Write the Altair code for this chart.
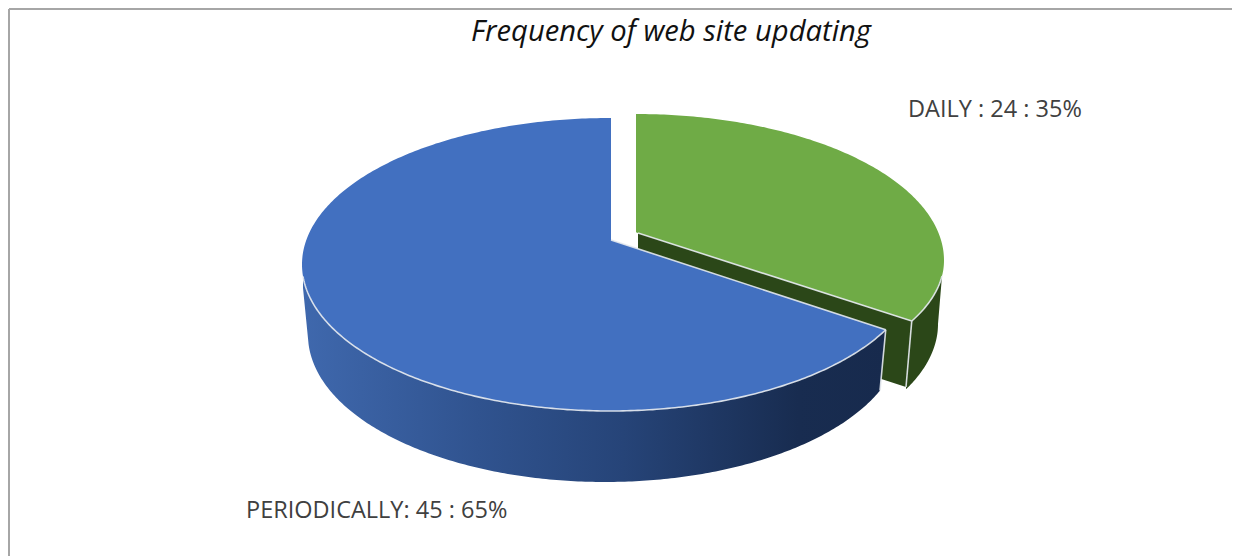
import numpy as np
import pandas as pd
import altair as alt

TITLE = "Frequency of web site updating"
CATEGORIES = ["DAILY", "PERIODICALLY"]
VALUES = [24, 45]
PERCENTS = [35, 65]
SEPARATORS = [" : ", ": "]
FILL_TOPS = ["#6fab46", "#4270c0"]
DARK_GREEN = "#2b4718"
EDGE = "#e4e9ee"
BORDER = "#a6a6a6"
WALL_STOPS = [(0, "#3f68ad"), (0.3, "#30538f"), (0.55, "#264478"), (0.85, "#182c50"), (1, "#172a4d")]

W, H = 1224, 548
OFF = 8
# layout of the projected pie (page pixels)
BLUE = dict(cx=610.0, cy=264.5, rx=308.0, ry=146.5, ax=611.0, ay=240.0)
GREEN = dict(cx=636.0, cy=260.5, rx=308.0, ry=146.5, ry2=136.0, ax=638.0, ay=233.0)
BLUE_LOW = dict(cx=605.0, cy=335.0, rx=297.0, ry=147.0)
GREEN_LOW = dict(cx=630.0, cy=324.0, rx=308.0, ry=147.0)
WARP = np.radians(9.3)

frac = VALUES[0] / sum(VALUES)
t = 2 * np.pi * frac
t_end = t + WARP * np.sin(2 * t)


def pt(e, tt):
    return e["cx"] + e["rx"] * np.sin(tt), e["cy"] - e.get("ry2", e["ry"]) * np.cos(tt)


def top(e, x):
    return e["cy"] - e["ry"] * np.sqrt(np.clip(1 - ((x - e["cx"]) / e["rx"]) ** 2, 0, 1))


def bot(e, x):
    return e["cy"] + e.get("ry2", e["ry"]) * np.sqrt(np.clip(1 - ((x - e["cx"]) / e["rx"]) ** 2, 0, 1))


def sweep(x0, x1, e, n=260):
    u = np.linspace(0, np.pi, n)
    xs = e["cx"] - e["rx"] * np.cos(u)
    xs = xs[(xs > x0) & (xs < x1)]
    return np.concatenate([[x0], xs, [x1]])


def frame(x, y, y2):
    return pd.DataFrame({"px": x, "upper": y, "lower": y2})


bex, bey = pt(BLUE, t_end)
gex, gey = pt(GREEN, t_end)


def lerp(x, x0, y0, x1, y1):
    return y0 + (np.asarray(x) - x0) * (y1 - y0) / (x1 - x0)


# blue top
xs = sweep(BLUE["cx"] - BLUE["rx"], bex, BLUE)
left = xs[xs < BLUE["ax"]]
left = np.append(left, BLUE["ax"])
right = xs[xs > BLUE["ax"]]
right = np.insert(right, 0, BLUE["ax"] + 0.01)
bx = np.concatenate([left, right])
bu = np.concatenate([top(BLUE, left), lerp(right, BLUE["ax"], BLUE["ay"], bex, bey)])
blue_top = frame(bx, bu, bot(BLUE, bx))

# blue wall
wall_left_x, wall_left_y = 303.0, 288.0
lx0 = BLUE_LOW["cx"] - BLUE_LOW["rx"]
wx_end = 880.0
wx = sweep(lx0 + 0.5, wx_end, BLUE_LOW)
wx = np.concatenate([[wall_left_x], wx, [bex]])
wl = bot(BLUE_LOW, wx)
wl[0] = wall_left_y
wl[-1] = bey
wu = bot(BLUE, wx)
wu[-1] = bey
blue_wall = frame(wx, wu, wl)

# green top
xs = sweep(GREEN["cx"], GREEN["cx"] + GREEN["rx"], GREEN)
gl = np.where(xs <= gex, lerp(xs, GREEN["ax"], GREEN["ay"], gex, gey), bot(GREEN, xs))
gl = np.maximum(gl, top(GREEN, xs))
green_top = frame(xs, top(GREEN, xs), gl)

# green inner cut face
seam_x, seam_y = 906.0, 387.0
fx = np.array([GREEN["ax"], seam_x, gex])
fu = lerp(fx, GREEN["ax"], GREEN["ay"], gex, gey)
fl = np.array([300.0, seam_y, gey])
green_face = frame(fx, fu, fl)

# green rim
rx_end = 942.0
rxs = sweep(seam_x, rx_end, GREEN_LOW)
ru = np.where(rxs <= gex, lerp(rxs, seam_x, seam_y, gex, gey), bot(GREEN, rxs))
rl = bot(GREEN_LOW, rxs)
rl[-1] = bot(GREEN, np.array([rx_end]))[0]
green_rim = frame(rxs, ru, rl)


def poly(name, xs, ys):
    return pd.DataFrame({"x": xs, "y": ys, "k": name, "i": np.arange(len(xs))})


arc_x = sweep(wall_left_x, bex, BLUE)
edges = pd.concat([
    poly("blue rim", arc_x, bot(BLUE, arc_x)),
    poly("blue cut", [BLUE["ax"], bex], [BLUE["ay"], bey]),
    poly("blue wall", [bex, wx_end], [bey, bot(BLUE_LOW, np.array([wx_end]))[0]]),
    poly("green cut", [GREEN["ax"], gex], [GREEN["ay"], gey]),
    poly("seam", [gex, seam_x], [gey, seam_y]),
    poly("green rim", sweep(gex, rx_end, GREEN), bot(GREEN, sweep(gex, rx_end, GREEN))),
], ignore_index=True)

X = alt.Scale(domain=[OFF, OFF + W], range=[0, W], nice=False, zero=False)
Y = alt.Scale(domain=[OFF, OFF + H], range=[0, H], nice=False, zero=False)
ex = alt.X("x:Q", scale=X, axis=None)
ey = alt.Y("y:Q", scale=Y, axis=None)


def area(df, fill):
    return alt.Chart(df).mark_area(fill=fill).encode(
        x=alt.X("px:Q", scale=X, axis=None),
        y=alt.Y("upper:Q", scale=Y, axis=None, stack=None),
        y2=alt.Y2("lower:Q"),
    )


wall_fill = alt.Gradient(gradient="linear", x1=0, x2=1, y1=0, y2=0,
                         stops=[alt.GradientStop(offset=o, color=c) for o, c in WALL_STOPS])

lines = alt.Chart(edges).mark_line(stroke=EDGE, strokeWidth=1.6, opacity=0.9).encode(
    x=ex, y=ey, detail="k:N", order=alt.Order("i:Q"))

labels = pd.DataFrame({
    "x": [908, 246],
    "y": [110, 511],
    "t": [f"{c}{s}{v} : {p}%" for c, s, v, p in zip(CATEGORIES, SEPARATORS, VALUES, PERCENTS)],
})
text = alt.Chart(labels).mark_text(font="Open Sans", fontSize=23.5, color="#404040", align="left",
                                   baseline="middle").encode(x=ex, y=ey, text="t:N")
title_df = pd.DataFrame({"x": [471], "y": [32], "t": [TITLE]})
title = alt.Chart(title_df).mark_text(font="Open Sans", fontSize=29.2, fontStyle="italic", color="#111111",
                                      align="left", baseline="middle").encode(x=ex, y=ey, text="t:N")

frame_df = pd.DataFrame({"a": [OFF + 1], "b": [OFF + W], "c": [OFF + H]})
border_top = alt.Chart(frame_df).mark_rule(stroke=BORDER, strokeWidth=2).encode(
    x=alt.X("a:Q", scale=X, axis=None), x2="b:Q", y=alt.Y("a:Q", scale=Y, axis=None))
border_left = alt.Chart(frame_df).mark_rule(stroke=BORDER, strokeWidth=2).encode(
    x=alt.X("a:Q", scale=X, axis=None), y=alt.Y("a:Q", scale=Y, axis=None), y2="c:Q")

chart = alt.layer(
    border_top, border_left,
    area(green_face, DARK_GREEN), area(green_rim, DARK_GREEN), area(green_top, FILL_TOPS[0]),
    area(blue_wall, wall_fill), area(blue_top, FILL_TOPS[1]),
    lines, text, title,
).properties(
    width=W, height=H, padding=0, background="white",
    autosize=alt.AutoSizeParams(type="none"),
).configure_view(stroke=None)

chart.save("out.html", embed_options={"renderer": "svg", "actions": False})
